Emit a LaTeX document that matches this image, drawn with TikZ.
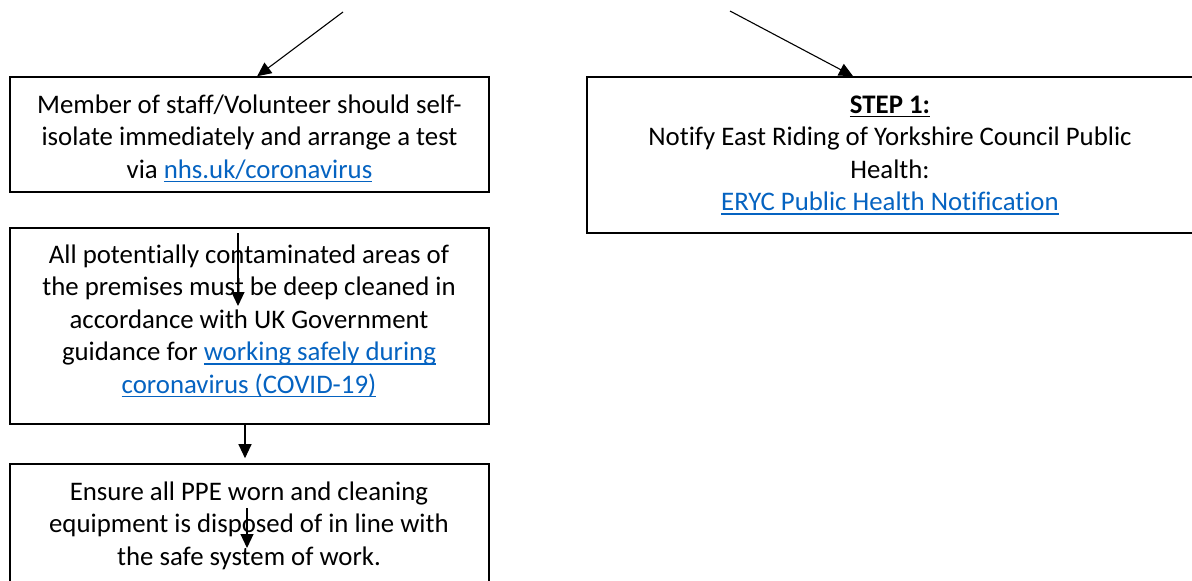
\documentclass[tikz,border=0pt]{standalone}
\usepackage{fontspec}
\setmainfont{Carlito}[Ligatures=NoCommon]
\usetikzlibrary{arrows.meta,calc}
\definecolor{linkblue}{RGB}{5,99,193}
\newcommand\myul[1]{\setbox0\hbox{#1}\rlap{\rule[-4.2pt]{\wd0}{1.6pt}}\box0}
\newcommand\lnk[1]{{\color{linkblue}\myul{#1}}}
\tikzset{
  boxnode/.style={draw=black, line width=1.6pt, rectangle, inner sep=0pt},
  txt/.style={anchor=north, inner sep=0pt, align=center, font=\fontsize{26.8}{32.5}\selectfont},
  arr/.style={draw=black, line width=1.1pt, -{Triangle[length=14pt,width=13pt]}}
}
\begin{document}
\begin{tikzpicture}[x=1pt,y=-1pt]
\clip (0,0) rectangle (1192,581);
\fill[white] (0,0) rectangle (1192,581);
% boxes
\node[boxnode, minimum width=479pt, minimum height=115pt] (b1) at (249.5,134.5) {};
\node[boxnode, minimum width=609pt, minimum height=156pt] (b2) at (891.5,155) {};
\node[boxnode, minimum width=479pt, minimum height=196pt] (b3) at (249.5,326) {};
\node[boxnode, minimum width=479pt, minimum height=140pt] (b4) at (249.5,534) {};
% texts
\node[txt] (t1) at (249.5,90.25) {\strut Member of staff/Volunteer should self-\\isolate immediately and arrange a test\\via \lnk{nhs.uk/coronavirus}};
\node[txt] (t2) at (890,90.25) {\strut\myul{\textbf{STEP 1:}}\\Notify East Riding of Yorkshire Council Public\\Health:\\\lnk{ERYC Public Health Notification}};
\node[txt] (t3) at (249,240.25) {\strut All potentially contaminated areas of\\the premises must be deep cleaned in\\accordance with UK Government\\guidance for \lnk{working safely during}\\\lnk{coronavirus (COVID-19)}};
\node[txt] (t4) at (249,477.25) {\strut Ensure all PPE worn and cleaning\\equipment is disposed of in line with\\the safe system of work.};
% connectors
\coordinate (s1) at (343,12);
\coordinate (s2) at (730,11);
\draw[arr] (s1) -- ($(b1.north west)!0.516!(b1.north east)$);
\draw[arr] (s2) -- ($(b2.north west)!0.437!(b2.north east)$);
\coordinate (x3) at (245,0);
\draw[arr, shorten >=5pt] (b3.south -| x3) -- (b4.north -| x3);
\coordinate (i3s) at (238,233);
\coordinate (i3e) at (238,306);
\draw[arr] (i3s) -- (i3e);
\coordinate (i4s) at (247,508);
\coordinate (i4e) at (247,548);
\draw[arr] (i4s) -- (i4e);
\end{tikzpicture}
\end{document}
